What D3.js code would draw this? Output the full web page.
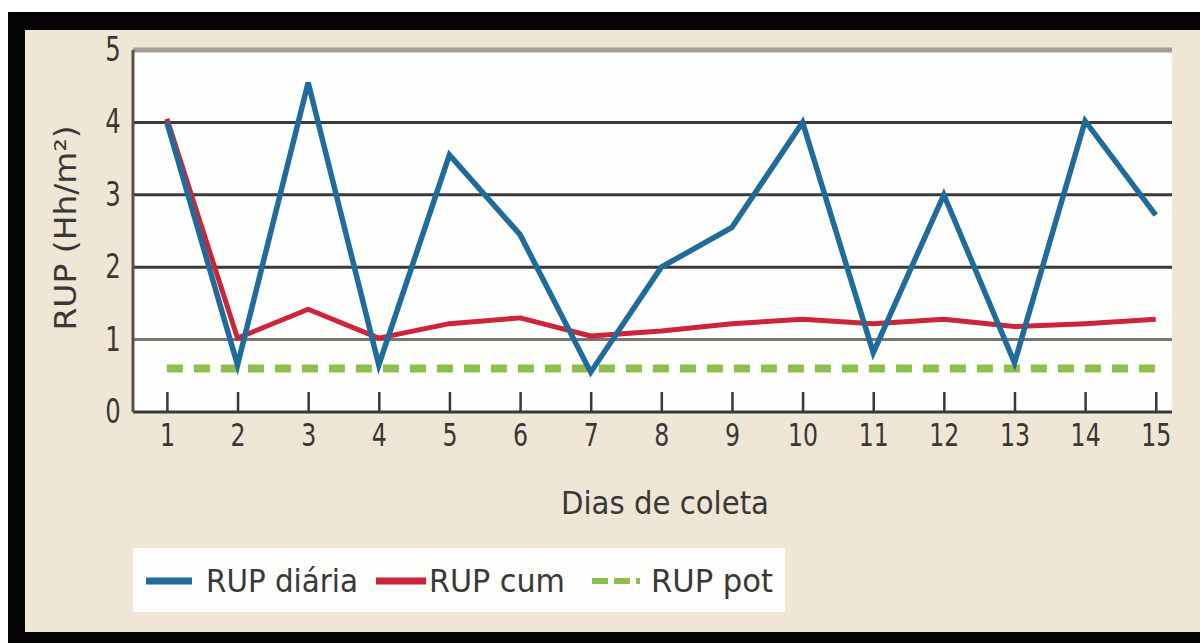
<!DOCTYPE html>
<html lang="pt">
<meta charset="utf-8">
<head>
    <script src="https://d3js.org/d3.v7.min.js"></script>
</head>
<body style="margin:0;background:#fff">
<svg width="1200" height="643"></svg>
<script>
// data
var days = [1, 2, 3, 4, 5, 6, 7, 8, 9, 10, 11, 12, 13, 14, 15];
var rupDiaria = [4.0, 0.65, 4.55, 0.65, 3.55, 2.45, 0.55, 2.0, 2.55, 4.0, 0.82, 3.0, 0.68, 4.02, 2.72];
var rupCum = [4.05, 1.02, 1.42, 1.02, 1.22, 1.3, 1.05, 1.12, 1.22, 1.28, 1.22, 1.28, 1.18, 1.22, 1.28];
var rupPot = [0.6, 0.6, 0.6, 0.6, 0.6, 0.6, 0.6, 0.6, 0.6, 0.6, 0.6, 0.6, 0.6, 0.6, 0.6];
var yTicks = [0, 1, 2, 3, 4, 5];
var legendNames = ["RUP diária", "RUP cum", "RUP pot"];

var font = "'DejaVu Sans Condensed', 'Liberation Sans Narrow', sans-serif";
var ink = "#3a3836";

var svg = d3.select("svg");

// frame + beige panel
svg.append("rect").attr("x", 8).attr("y", 12).attr("width", 1192).attr("height", 631).attr("fill", "#050303");
svg.append("rect").attr("x", 25).attr("y", 30).attr("width", 1175).attr("height", 602).attr("fill", "#efe6d6");

var pLeft = 133, pRight = 1172, pTop = 50, pBottom = 412;
var x = d3.scaleLinear().domain([0.52, 15.23]).range([pLeft, pRight]);
var y = d3.scaleLinear().domain([0, 5]).range([pBottom, pTop]);

// plot area
svg.append("rect").attr("x", pLeft).attr("y", pTop).attr("width", pRight - pLeft).attr("height", pBottom - pTop).attr("fill", "#fefefc");

// grid lines
svg.append("g").selectAll("line")
    .data([1, 2, 3, 4])
    .enter().append("line")
    .attr("x1", pLeft).attr("x2", pRight)
    .attr("y1", function(d) { return y(d); })
    .attr("y2", function(d) { return y(d); })
    .attr("stroke", function(d) { return d == 1 ? "#7a766f" : "#3c3a38"; })
    .attr("stroke-width", 3);

// top border
svg.append("line").attr("x1", pLeft).attr("x2", pRight).attr("y1", y(5)).attr("y2", y(5))
    .attr("stroke", "#a59e92").attr("stroke-width", 5);

// x axis (ticks point up)
var xAxis = svg.append("g")
    .attr("transform", "translate(0," + pBottom + ")")
    .call(d3.axisBottom(x).tickValues(days).tickSize(-20).tickPadding(11));
xAxis.select(".domain").remove();
xAxis.selectAll(".tick line").attr("stroke", ink).attr("stroke-width", 2.5);
xAxis.selectAll("text").attr("font-family", font).attr("font-size", 32).attr("fill", ink)
    .attr("dy", "0.72em").attr("transform", "scale(0.82,1)");
svg.append("line").attr("x1", pLeft).attr("x2", pRight).attr("y1", pBottom).attr("y2", pBottom)
    .attr("stroke", ink).attr("stroke-width", 3);

// y axis
var yAxis = svg.append("g")
    .attr("transform", "translate(" + pLeft + ",0)")
    .call(d3.axisLeft(y).tickValues(yTicks).tickFormat(d3.format("d")).tickSize(0).tickPadding(15));
yAxis.select(".domain").remove();
yAxis.selectAll("text").attr("font-family", font).attr("font-size", 33).attr("fill", ink)
    .attr("transform", "scale(0.82,1)");
svg.append("line").attr("x1", pLeft).attr("x2", pLeft).attr("y1", pTop).attr("y2", pBottom)
    .attr("stroke", "#55524e").attr("stroke-width", 3);

// axis titles
svg.append("text")
    .attr("transform", "translate(76,228) rotate(-90)")
    .attr("text-anchor", "middle")
    .attr("font-family", font).attr("font-size", 30).attr("fill", ink)
    .attr("textLength", 205).attr("lengthAdjust", "spacingAndGlyphs")
    .text("RUP (Hh/m²)");
svg.append("text")
    .attr("x", 665).attr("y", 514)
    .attr("text-anchor", "middle")
    .attr("font-family", font).attr("font-size", 32).attr("fill", ink)
    .attr("textLength", 208).attr("lengthAdjust", "spacingAndGlyphs")
    .text("Dias de coleta");

// lines
var line = d3.line()
    .x(function(d, i) { return x(days[i]); })
    .y(function(d) { return y(d); });

svg.append("path").datum(rupPot)
    .attr("d", line).attr("fill", "none")
    .attr("stroke", "#8cbf4c").attr("stroke-width", 8)
    .attr("stroke-dasharray", "16,11");
svg.append("path").datum(rupCum)
    .attr("d", line).attr("fill", "none")
    .attr("stroke", "#cc2438").attr("stroke-width", 5).attr("stroke-linejoin", "round");
svg.append("path").datum(rupDiaria)
    .attr("d", line).attr("fill", "none")
    .attr("stroke", "#1f6c9c").attr("stroke-width", 5.5).attr("stroke-linejoin", "miter");

// legend
var lg = svg.append("g");
lg.append("rect").attr("x", 133).attr("y", 548).attr("width", 652).attr("height", 64).attr("fill", "#fdfdfb");
var items = [
    {name: legendNames[0], color: "#1f6c9c", dash: null, x1: 146, x2: 192, tx: 206, w: 152},
    {name: legendNames[1], color: "#cc2438", dash: null, x1: 376, x2: 426, tx: 429, w: 136},
    {name: legendNames[2], color: "#8cbf4c", dash: "16,6", x1: 592, x2: 640, tx: 651, w: 122}
];
items.forEach(function(it) {
    lg.append("line").attr("x1", it.x1).attr("x2", it.x2).attr("y1", 581).attr("y2", 581)
        .attr("stroke", it.color).attr("stroke-width", it.dash ? 6 : 7)
        .attr("stroke-dasharray", it.dash);
    lg.append("text").attr("x", it.tx).attr("y", 592)
        .attr("font-family", font).attr("font-size", 32).attr("fill", ink)
        .attr("textLength", it.w).attr("lengthAdjust", "spacingAndGlyphs")
        .text(it.name);
});
</script>
</body>
</html>
